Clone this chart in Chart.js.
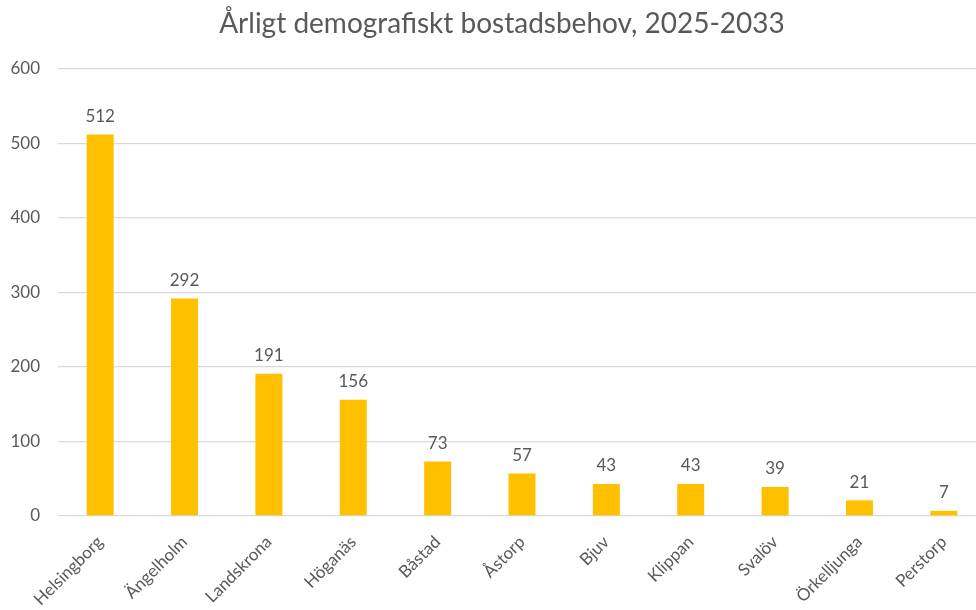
<!DOCTYPE html>
<html>
<head>
<meta charset="utf-8">
<script src="https://cdn.jsdelivr.net/npm/chart.js@4"></script>
<style>
  html, body { margin: 0; padding: 0; background: #fff; overflow: hidden; }
  #wrap { width: 1000px; height: 610px; }
</style>
</head>
<body>
<div id="wrap"><canvas id="bostadChart" width="1000" height="610"></canvas></div>
<script>
const titleText = "Årligt demografiskt bostadsbehov, 2025-2033";
const kommuner = ["Helsingborg", "Ängelholm", "Landskrona", "Höganäs", "Båstad", "Åstorp", "Bjuv", "Klippan", "Svalöv", "Örkelljunga", "Perstorp"];
const behov = [512, 292, 191, 156, 73, 57, 43, 43, 39, 21, 7];
const yTicks = [0, 100, 200, 300, 400, 500, 600];

const textGrey = "#595959";
const fontFamily = "Lato, 'Open Sans', sans-serif";

// Title and value labels drawn straight onto the canvas
const labelPlugin = {
    id: 'labels',
    afterDraw(chart) {
        const ctx = chart.ctx;
        ctx.save();
        ctx.fillStyle = textGrey;
        ctx.textAlign = 'center';
        ctx.textBaseline = 'middle';
        ctx.font = "28px " + fontFamily;
        ctx.fillText(titleText, 502, 24);

        ctx.font = "17px " + fontFamily;
        const meta = chart.getDatasetMeta(0);
        meta.data.forEach((bar, i) => {
            ctx.fillText(String(behov[i]), bar.x, bar.y - 18);
        });
        ctx.restore();
    }
};

const ctx = document.getElementById('bostadChart').getContext('2d');
const chart = new Chart(ctx, {
    type: 'bar',
    data: {
        labels: kommuner,
        datasets: [{
            data: behov,
            backgroundColor: '#FFC000',
            borderWidth: 0,
            barPercentage: 0.32,
            categoryPercentage: 1
        }]
    },
    options: {
        responsive: false,
        animation: false,
        layout: { padding: { top: 69, right: 14 } },
        plugins: {
            legend: { display: false },
            title: { display: false },
            tooltip: { enabled: false }
        },
        scales: {
            x: {
                grid: { display: false, drawTicks: false },
                border: { display: false },
                ticks: {
                    color: textGrey,
                    font: { family: fontFamily, size: 17 },
                    minRotation: 45,
                    maxRotation: 45,
                    padding: 16
                },
                afterFit(scale) { scale.height = 94; }
            },
            y: {
                min: 0,
                max: 600,
                afterBuildTicks(scale) {
                    scale.ticks = yTicks.map(v => ({ value: v }));
                },
                grid: { color: '#D9D9D9', lineWidth: 1.3, drawTicks: false },
                border: { display: false },
                ticks: {
                    color: textGrey,
                    font: { family: fontFamily, size: 17 },
                    padding: 18
                },
                afterFit(scale) { scale.width = 58; }
            }
        }
    },
    plugins: [labelPlugin]
});
</script>
</body>
</html>
